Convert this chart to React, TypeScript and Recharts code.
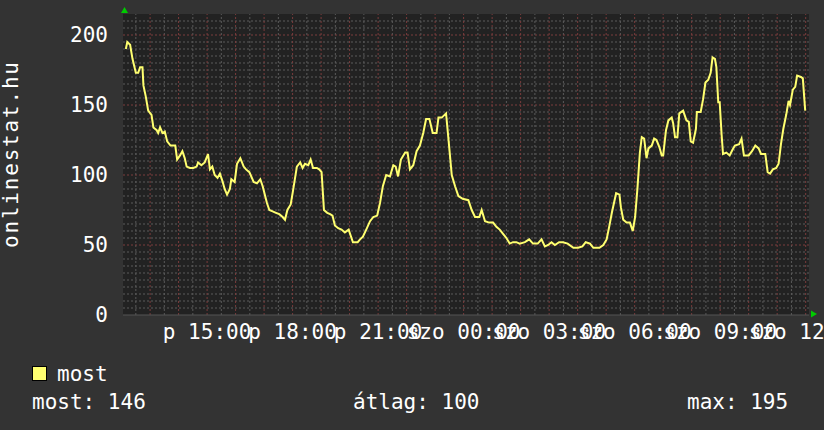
import React from "react";
import { LineChart, Line, XAxis, YAxis, ReferenceLine, ReferenceArea } from "recharts";

// minutes since Friday 12:00
const minutes = [
  9, 12, 18, 23, 30, 35, 39, 44, 46, 51, 56, 63, 67, 74, 77, 81, 86, 91, 96, 103,
  113, 117, 123, 128, 133, 137, 144, 151, 158, 161, 168, 175, 182, 186, 191, 196, 202, 207, 212, 217,
  222, 228, 231, 238, 243, 250, 257, 262, 269, 278, 285, 292, 297, 306, 311, 318, 325, 332, 339, 344,
  349, 356, 361, 369, 376, 381, 386, 393, 398, 403, 411, 416, 421, 426, 433, 439, 444, 449, 456, 463,
  470, 478, 487, 497, 502, 508, 515, 523, 530, 538, 544, 550, 557, 565, 572, 577, 582, 588, 597, 602,
  607, 614, 621, 628, 635, 641, 648, 655, 663, 667, 674, 683, 688, 695, 702, 709, 718, 730, 737, 744,
  753, 758, 765, 774, 782, 789, 796, 803, 810, 817, 824, 831, 838, 849, 858, 866, 876, 884, 891, 898,
  905, 912, 921, 929, 939, 951, 961, 970, 977, 986, 993, 1006, 1014, 1021, 1027, 1032, 1041, 1048, 1051, 1056,
  1063, 1070, 1076, 1081, 1086, 1091, 1095, 1100, 1105, 1109, 1116, 1121, 1126, 1132, 1137, 1140, 1146, 1151, 1158, 1161,
  1165, 1170, 1174, 1182, 1189, 1194, 1198, 1203, 1209, 1211, 1219, 1224, 1229, 1235, 1240, 1244, 1249, 1252, 1256, 1259,
  1263, 1266, 1273, 1280, 1286, 1291, 1300, 1305, 1310, 1320, 1327, 1334, 1341, 1346, 1355, 1360, 1365, 1371, 1378, 1383,
  1388, 1393, 1399, 1404, 1407, 1413, 1418, 1422, 1430, 1434, 1439,
];

const users = [
  190, 195, 193, 183, 173, 173, 177, 177, 164, 156, 146, 143, 134, 132, 130, 134, 130, 131, 124, 121,
  121, 111, 114, 117, 112, 106, 105, 105, 106, 109, 107, 109, 115, 104, 106, 100, 98, 101, 96, 90,
  86, 90, 97, 95, 108, 112, 106, 104, 102, 95, 94, 97, 92, 80, 75, 74, 73, 72, 70, 68,
  75, 79, 89, 106, 109, 105, 108, 107, 111, 105, 105, 104, 102, 75, 73, 72, 71, 64, 62, 61,
  59, 61, 52, 52, 54, 56, 61, 67, 70, 71, 80, 92, 100, 99, 107, 106, 99, 111, 116, 116,
  104, 107, 117, 121, 130, 140, 140, 130, 130, 141, 141, 144, 126, 100, 92, 85, 83, 82, 75, 70,
  70, 75, 67, 66, 66, 63, 61, 58, 55, 51, 52, 52, 51, 52, 54, 51, 51, 54, 49, 50,
  52, 50, 52, 52, 51, 48, 48, 49, 52, 51, 48, 48, 50, 54, 64, 73, 87, 86, 77, 68,
  66, 66, 60, 70, 91, 116, 127, 126, 112, 119, 121, 126, 125, 120, 114, 114, 132, 139, 141, 137,
  127, 127, 144, 146, 139, 138, 124, 123, 133, 145, 145, 154, 166, 168, 173, 184, 183, 177, 152, 152,
  129, 115, 116, 114, 118, 121, 122, 126, 114, 114, 117, 121, 119, 115, 115, 102, 101, 104, 105, 108,
  122, 133, 143, 153, 150, 161, 163, 171, 170, 169, 146,
];

const xLabelTicks = [180, 360, 540, 720, 900, 1080, 1260, 1440];
const xLabels = ["p 15:00", "p 18:00", "p 21:00", "szo 00:00", "szo 03:00", "szo 06:00", "szo 09:00", "szo 12:00"];
const xMajor = [60, 120, 180, 240, 300, 360, 420, 480, 540, 600, 660, 720, 780, 840, 900, 960, 1020, 1080, 1140, 1200, 1260, 1320, 1380, 1440];
const xMinor = [30, 90, 150, 210, 270, 330, 390, 450, 510, 570, 630, 690, 750, 810, 870, 930, 990, 1050, 1110, 1170, 1230, 1290, 1350, 1410];
const yTicks = [0, 50, 100, 150, 200];
const yMinor = [5, 10, 15, 20, 25, 30, 35, 40, 45, 55, 60, 65, 70, 75, 80, 85, 90, 95, 105, 110, 115, 120, 125, 130, 135, 140, 145, 155, 160, 165, 170, 175, 180, 185, 190, 195, 205, 210];

const seriesName = "most";
const statLabels = ["most: 146", "átlag: 100", "max: 195"];
const axisTitle = "onlinestat.hu";

const data = minutes.map((t, i) => ({ t, v: users[i] }));

const FONT = "DejaVu Sans Mono";
const MINOR = "#5a5a5a";
const MAJOR = "#7a3c3c";
const LINE = "#ffff70";

const XTick = (props: any) => {
  const { x, payload } = props;
  const idx = xLabelTicks.indexOf(payload.value);
  return (
    <text x={x} y={339} textAnchor="middle" fill="#ffffff" fontFamily={FONT} fontSize={21}>
      {xLabels[idx]}
    </text>
  );
};

const YTick = (props: any) => {
  const { y, payload } = props;
  return (
    <text x={108} y={y} dy={7} textAnchor="end" fill="#ffffff" fontFamily={FONT} fontSize={21}>
      {payload.value}
    </text>
  );
};

export default function App() {
  return (
    <div style={{ position: "absolute", left: 0, top: 0, width: 824, height: 430, background: "#333333" }}>
      <LineChart width={824} height={430} data={data} margin={{ top: 14, right: 15, bottom: 85, left: 63 }}>
        <XAxis
          dataKey="t"
          type="number"
          domain={[3, 1447]}
          ticks={xLabelTicks}
          interval={0}
          tick={<XTick />}
          axisLine={false}
          tickLine={false}
          height={30}
          allowDataOverflow
        />
        <YAxis
          type="number"
          domain={[0, 215]}
          ticks={yTicks}
          interval={0}
          tick={<YTick />}
          axisLine={false}
          tickLine={false}
          width={60}
          allowDataOverflow
        />
        <ReferenceArea x1={3} x2={1447} y1={0} y2={215} fill="#222222" fillOpacity={1} stroke="none" />
        {yMinor.map((v) => (
          <ReferenceLine key={"ym" + v} y={v} stroke={MINOR} strokeDasharray="2 2" strokeWidth={1} />
        ))}
        {xMinor.map((v) => (
          <ReferenceLine key={"xm" + v} x={v} stroke={MINOR} strokeDasharray="2 2" strokeWidth={1} />
        ))}
        {yTicks.filter((v) => v > 0).map((v) => (
          <ReferenceLine key={"yM" + v} y={v} stroke={MAJOR} strokeDasharray="2 2" strokeWidth={1} />
        ))}
        {xMajor.map((v) => (
          <ReferenceLine key={"xM" + v} x={v} stroke={MAJOR} strokeDasharray="2 2" strokeWidth={1} />
        ))}
        <ReferenceLine y={0} stroke="#555555" strokeWidth={1} />
        <Line
          dataKey="v"
          type="linear"
          stroke={LINE}
          strokeWidth={2}
          dot={false}
          isAnimationActive={false}
        />
      </LineChart>
      <svg
        width={824}
        height={430}
        style={{ position: "absolute", left: 0, top: 0, pointerEvents: "none" }}
      >
        <text
          transform="translate(18,155) rotate(-90)"
          textAnchor="middle"
          fill="#ffffff"
          fontFamily={FONT}
          fontSize={21}
          textLength={186}
          lengthAdjust="spacing"
        >
          {axisTitle}
        </text>
        <polygon points="124.5,7 121,13 128,13" fill="#00cc00" />
        <polygon points="817,314 811,310.5 811,317.5" fill="#00cc00" />
        <rect x={32.5} y={366.5} width={14} height={14} fill={LINE} stroke="#000000" strokeWidth={1} />
        <text x={57} y={381} fill="#ffffff" fontFamily={FONT} fontSize={21}>
          {seriesName}
        </text>
        <text x={32} y={409} fill="#ffffff" fontFamily={FONT} fontSize={21}>
          {statLabels[0]}
        </text>
        <text x={353} y={409} fill="#ffffff" fontFamily={FONT} fontSize={21}>
          {statLabels[1]}
        </text>
        <text x={687} y={409} fill="#ffffff" fontFamily={FONT} fontSize={21}>
          {statLabels[2]}
        </text>
      </svg>
    </div>
  );
}
